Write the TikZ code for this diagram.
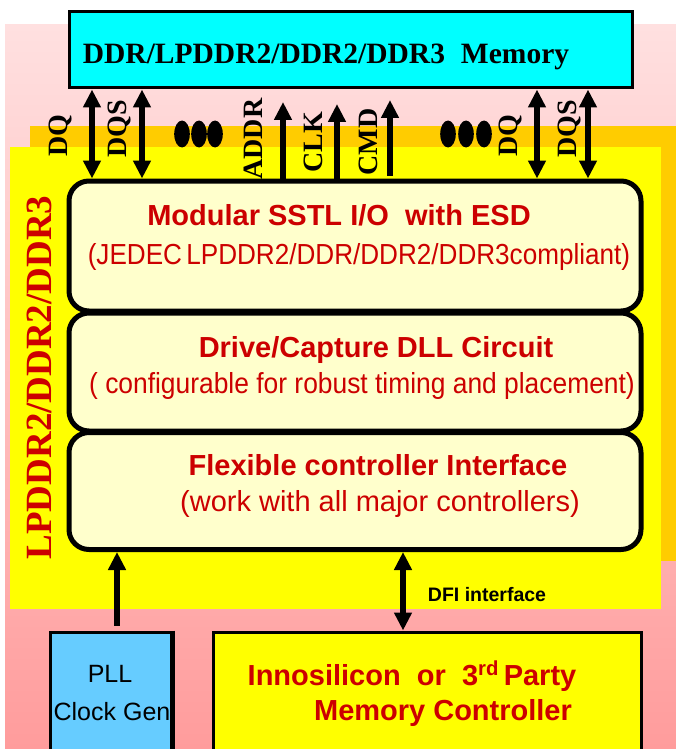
\documentclass[tikz,border=0pt]{standalone}
\usepackage{fontspec}
\usepackage{graphicx}
\usetikzlibrary{arrows.meta}
\newfontfamily\tnr{Liberation Serif}
\newfontfamily\ari{Liberation Sans}
\definecolor{pinktop}{HTML}{FFE0E0}
\definecolor{pinkbot}{HTML}{FF9C9C}
\definecolor{orng}{HTML}{FFCC00}
\definecolor{yel}{HTML}{FFFF00}
\definecolor{cream}{HTML}{FFFFCC}
\definecolor{cyn}{HTML}{00FFFF}
\definecolor{sky}{HTML}{66CCFF}
\definecolor{dred}{HTML}{CC0000}
\begin{document}
\begin{tikzpicture}[x=1pt,y=-1pt,
  lbl/.style={font=\tnr\bfseries\fontsize{28}{30}\selectfont, rotate=90, inner sep=0pt},
  blk/.style={draw=black, line width=5pt, rounded corners=20pt, fill=cream, minimum width=572pt, inner sep=0pt},
  ttl/.style={font=\ari\bfseries\fontsize{29}{32}\selectfont, text=dred, inner sep=0pt, anchor=base},
  sub/.style={font=\ari\fontsize{29}{32}\selectfont, text=dred, inner sep=0pt, anchor=base},
  sqbox/.style={draw=black, line width=3pt, inner sep=0pt},
  dbl/.style={line width=5.5pt, {Triangle[width=17pt,length=18pt]}-{Triangle[width=17pt,length=18pt]}},
  sgl/.style={line width=5.5pt, -{Triangle[width=17pt,length=18pt]}},
]
\path[use as bounding box] (0,0) rectangle (676,749);
\clip (0,0) rectangle (676,749);
\fill[white] (0,0) rectangle (676,749);
\shade[top color=pinktop, bottom color=pinkbot] (5,25) rectangle (676,749);
\fill[orng] (30,126) rectangle (676,561);
\fill[yel] (10,147) rectangle (661,609);

% memory
\node[sqbox, fill=cyn, minimum width=563pt, minimum height=76pt] (mem) at (350.5,50) {};
\node[font=\tnr\bfseries\fontsize{29.5}{32}\selectfont, inner sep=0pt, anchor=base] (memt) at (326,64) {DDR/LPDDR2/DDR2/DDR3\hspace{16pt}Memory};

% stacked blocks
\node[blk, minimum height=130pt] (io) at (355,246) {};
\node[blk, minimum height=118pt] (dll) at (355,372) {};
\node[blk, minimum height=117pt] (fci) at (355,491) {};

\node[ttl] (iot) at (339,225) {Modular SSTL I/O\ \ with ESD};
\node[sub] (ios) at (359,264) {\scalebox{0.9}[1]{(JEDEC\,LPDDR2/DDR/DDR2/DDR3compliant)}};
\node[ttl] (dllt) at (376,357) {Drive/Capture DLL Circuit};
\node[sub] (dlls) at (362,393) {\scalebox{0.91}[1]{( configurable for robust timing and placement)}};
\node[ttl] (fcit) at (378,475) {Flexible controller Interface};
\node[sub] (fcis) at (380,511) {(work with all major controllers)};

% side label
\node[font=\tnr\bfseries\fontsize{37}{40}\selectfont, text=dred, rotate=90, inner sep=0pt] (side) at (39,377.5) {LPDDR2/DDR2/DDR3};

% memory arrows
\draw[dbl] (mem.south -| 92,0) -- (io.north -| 92,0);
\draw[dbl] (mem.south -| 142,0) -- (io.north -| 142,0);
\draw[dbl] (mem.south -| 537,0) -- (io.north -| 537,0);
\draw[dbl] (mem.south -| 588,0) -- (io.north -| 588,0);
\coordinate (addrtip) at (283,102);
\coordinate (clktip) at (337,104);
\coordinate (cmdtip) at (390,100);
\draw[sgl] (io.north -| addrtip) -- (addrtip);
\draw[sgl] (io.north -| clktip) -- (clktip);
\draw[sgl] (io.north -| cmdtip) ++(0,-3) -- (cmdtip);

\node[lbl] (dq1) at (60,136) {DQ};
\node[lbl] (dqs1) at (119,129) {DQS};
\node[lbl] (addr) at (253,139) {ADDR};
\node[lbl] (clk) at (313,142) {CLK};
\node[lbl] (cmd) at (368,142) {CMD};
\node[lbl] (dq2) at (510,136) {DQ};
\node[lbl] (dqs2) at (569,129) {DQS};

\foreach \cx in {182,199,215,448,466,484}
  \fill (\cx,134) ellipse [x radius=7.8, y radius=13.5];

% bottom boxes
\node[sqbox, fill=sky, minimum width=121pt, minimum height=128pt] (pll) at (111,696) {};
\node[font=\ari\fontsize{25}{28}\selectfont, inner sep=0pt, anchor=base] (pllt) at (110,682) {PLL};
\node[font=\ari\fontsize{25}{28}\selectfont, inner sep=0pt, anchor=base] (pllc) at (112,720) {Clock Gen};
\draw[line width=3pt] (pll.north east) -- (pll.south east);

\node[sqbox, fill=yel, minimum width=428pt, minimum height=128pt] (ctrl) at (427.5,696) {};
\node[ttl] (ctrlt) at (412,685) {Innosilicon\ \ or\ \ 3\textsuperscript{rd}\,Party};
\node[ttl] (ctrlm) at (443,720) {Memory Controller};

\draw[sgl] (pll.north -| 117,0) ++(0,-5) -- (fci.south -| 117,0);
\draw[dbl] (fci.south -| 403,0) -- (ctrl.north -| 403,0);
\node[font=\ari\bfseries\fontsize{19.5}{22}\selectfont, inner sep=0pt, anchor=base] (dfi) at (487,601) {DFI interface};
\end{tikzpicture}
\end{document}
